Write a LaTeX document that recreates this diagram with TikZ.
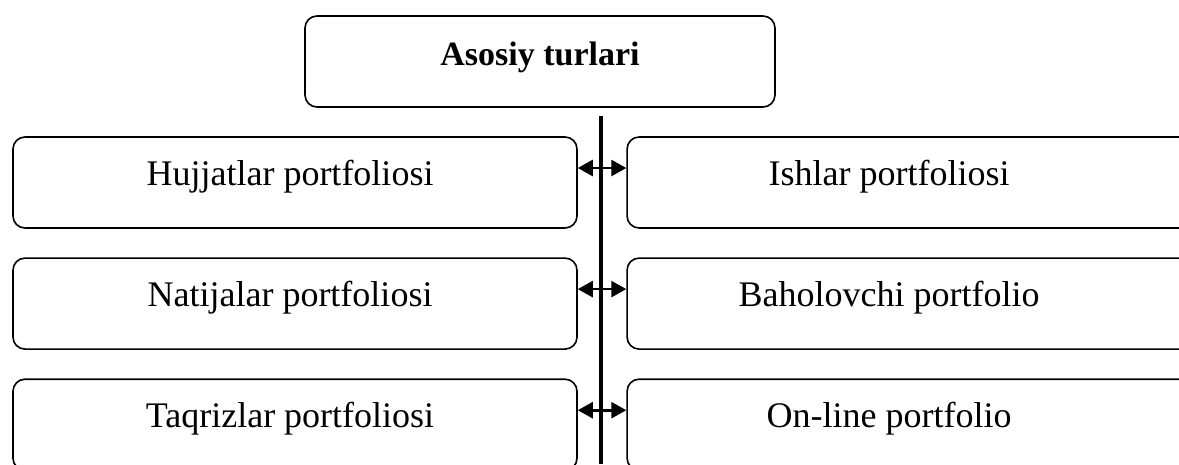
\documentclass[tikz,border=0pt]{standalone}
\usepackage{fontspec}
\setmainfont{Liberation Serif}
\usetikzlibrary{arrows.meta, positioning, calc}
\tikzset{
	kindbox/.style ={rectangle, rounded corners=12pt, draw=black, line width=1.6pt, minimum width=564pt, minimum height=91pt, text height=25pt, text depth=20pt, inner sep=2pt, font=\fontsize{36}{40}\selectfont},
	leftkind/.style ={kindbox, execute at begin node={\hspace*{-10pt}}},
	rightkind/.style={kindbox, execute at begin node={\hspace*{-40pt}}},
	headbox/.style ={kindbox, minimum width=470pt, text height=25pt, text depth=18pt, font=\fontsize{34}{40}\selectfont\bfseries},
	link/.style    ={{Triangle[length=15pt,width=16pt]}-{Triangle[length=15pt,width=16pt]}, line width=2.6pt},
	stem/.style    ={line width=3.2pt},
}
\begin{document}
\begin{tikzpicture}[x=1pt, y=-1pt]
	\useasboundingbox (0,0) rectangle (1179,464);
	\node[headbox] (asos) at (540,61.5) {Asosiy turlari};
	\node[leftkind] (hujjat) at (295,182.5) {Hujjatlar portfoliosi};
	\node[leftkind, below=28.5pt of hujjat] (natija) {Natijalar portfoliosi};
	\node[leftkind, below=28.5pt of natija] (taqriz) {Taqrizlar portfoliosi};
	\node[rightkind, right=48.5pt of hujjat] (ishlar) {Ishlar portfoliosi};
	\node[rightkind, right=48.5pt of natija] (baho) {Baholovchi portfolio};
	\node[rightkind, right=48.5pt of taqriz] (online) {On-line portfolio};
	\coordinate (stemtop) at (601,116);
	\coordinate (stembot) at (601,464);
	\draw[stem] (stemtop) -- (stembot);
	\draw[link] ([yshift=14.5pt]hujjat.east) -- ([yshift=14.5pt]ishlar.west);
	\draw[link] ([yshift=14.5pt]natija.east) -- ([yshift=14.5pt]baho.west);
	\draw[link] ([yshift=14.5pt]taqriz.east) -- ([yshift=14.5pt]online.west);
\end{tikzpicture}
\end{document}
